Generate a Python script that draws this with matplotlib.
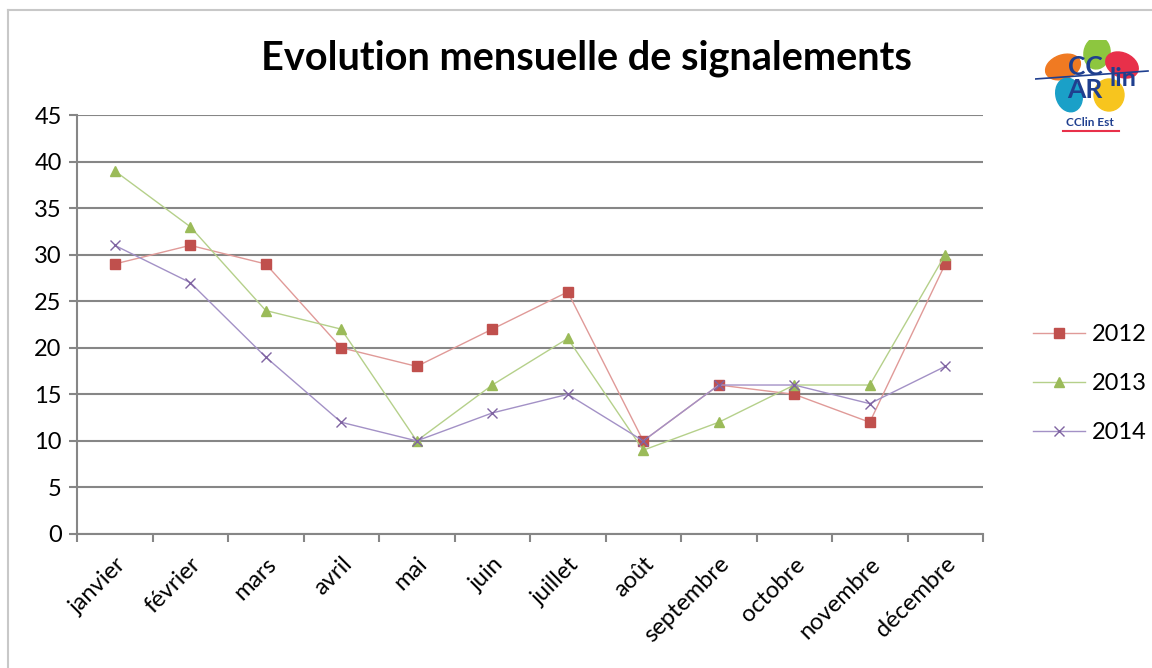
import numpy as np
import matplotlib
matplotlib.use("Agg")
import matplotlib.pyplot as plt
from matplotlib.patches import Ellipse
from matplotlib.lines import Line2D

plt.rcParams['font.family'] = ['Lato', 'DejaVu Sans']

months = ["janvier", "février", "mars", "avril", "mai", "juin", "juillet",
          "août", "septembre", "octobre", "novembre", "décembre"]
s2012 = [29, 31, 29, 20, 18, 22, 26, 10, 16, 15, 12, 29]
s2013 = [39, 33, 24, 22, 10, 16, 21, 9, 12, 16, 16, 30]
s2014 = [31, 27, 19, 12, 10, 13, 15, 10, 16, 16, 14, 18]

W, H = 1152, 668
fig = plt.figure(figsize=(W / 100, H / 100), dpi=100)
ax = fig.add_axes([77 / W, 1 - 534 / H, (983 - 77) / W, (534 - 115) / H])

x = np.arange(len(months))
ax.plot(x, s2012, color="#e09a98", lw=1, marker="s", ms=7,
        mfc="#c0504d", mec="#c0504d", label="2012")
ax.plot(x, s2013, color="#b5d08a", lw=1, marker="^", ms=7,
        mfc="#9bbb59", mec="#9bbb59", label="2013")
ax.plot(x, s2014, color="#a391c6", lw=1, marker="x", ms=7,
        mec="#8064a2", mew=1, label="2014")

ax.set_xlim(-0.5, len(months) - 0.5)
ax.set_ylim(0, 45)
ax.set_yticks(range(0, 50, 5))
ax.yaxis.grid(True, color="#868686", lw=1.5)
ax.set_axisbelow(True)

# ticks between categories, labels at centres
ax.set_xticks(np.arange(-0.5, len(months), 1))
ax.set_xticklabels([])
ax.set_xticks(x, minor=True)
ax.set_xticklabels(months, minor=True, rotation=45, ha="right",
                   rotation_mode="anchor", fontsize=17)
ax.tick_params(axis="x", which="minor", length=0, pad=14)
ax.tick_params(axis="x", which="major", length=6, width=1.5, color="#868686")
ax.tick_params(axis="y", length=6, width=1.5, color="#868686", labelsize=17, pad=5)

for side in ["top", "right"]:
    ax.spines[side].set_visible(False)
for side in ["left", "bottom"]:
    ax.spines[side].set_color("#868686")
    ax.spines[side].set_linewidth(1.5)

fig.text(586 / W, 1 - 58 / H, "Evolution mensuelle de signalements",
         ha="center", va="center", fontsize=28.5, fontweight="bold")

ax.legend(loc="upper left", bbox_to_anchor=(1021 / W, 1 - 312 / H),
          bbox_transform=fig.transFigure, frameon=False, fontsize=17,
          handlelength=2.2, handletextpad=0.3, labelspacing=1.2, borderpad=0)

# outer frame (top and left visible)
fig.add_artist(Line2D([8 / W, 1], [1 - 10 / H] * 2, color="#c8c8c8", lw=1.5))
fig.add_artist(Line2D([8 / W] * 2, [0, 1 - 10 / H], color="#c8c8c8", lw=1.5))

# logo
lg = fig.add_axes([1035 / W, 1 - 135 / H, 115 / W, 95 / H])
lg.set_xlim(0, 115)
lg.set_ylim(0, 95)
lg.axis("off")
petals = [(28, 68, 36, 24, 20, "#f07a22"),
          (62, 82, 26, 32, -10, "#8dc63f"),
          (87, 70, 34, 24, -25, "#e8304a"),
          (34, 40, 26, 34, 15, "#1aa0c8"),
          (74, 40, 30, 32, 0, "#f7c51e")]
for cx, cy, w, h, a, c in petals:
    lg.add_patch(Ellipse((cx, cy), w, h, angle=a, color=c))
lg.plot([0, 113], [56, 64], color="#1f3f8f", lw=1.2)
lg.text(50, 68, "CC", fontsize=19, fontweight="bold", color="#1f3f8f", ha="center", va="center")
lg.text(50, 45, "AR", fontsize=19, fontweight="bold", color="#1f3f8f", ha="center", va="center")
lg.text(88, 57, "lin", fontsize=18, fontweight="bold", color="#1f3f8f", ha="center", va="center")
lg.text(55, 13, "CClin Est", fontsize=8.5, fontweight="bold", color="#1f3f8f", ha="center", va="center")
lg.plot([28, 84], [4, 4], color="#e8304a", lw=1.5)

fig.savefig("out.png", dpi=100, facecolor="white")
